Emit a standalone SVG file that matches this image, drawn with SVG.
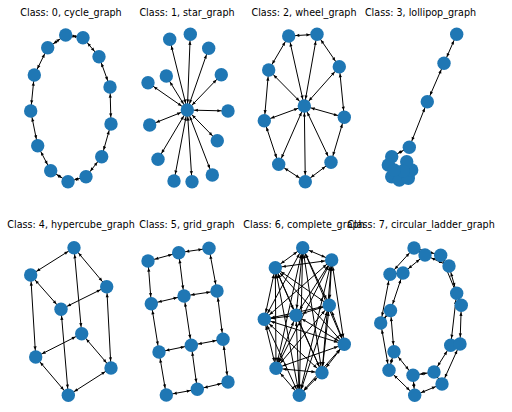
<svg xmlns="http://www.w3.org/2000/svg" width="512" height="412" viewBox="0 0 512 412">
<defs>
<marker id="a" markerUnits="userSpaceOnUse" orient="auto-start-reverse" refX="0" refY="0" markerWidth="12" markerHeight="4" viewBox="-12 -2 12 4">
<path d="M-7,0 L-10.6,-1.6 L-10.6,1.6 Z" fill="#000"/>
</marker>
</defs>
<style>
.e line{stroke:#000;stroke-width:1;marker-start:url(#a);marker-end:url(#a)}
.n{fill:#1f77b4}
.t{font-family:"DejaVu Sans",sans-serif;font-size:9.6px;text-anchor:middle;fill:#000}
</style>
<rect width="512" height="412" fill="#fff"/>
<g id="titles">
<text class="t" x="71" y="15.5">Class: 0, cycle_graph</text>
<text class="t" x="187" y="15.5">Class: 1, star_graph</text>
<text class="t" x="304" y="15.5">Class: 2, wheel_graph</text>
<text class="t" x="420.5" y="15.5">Class: 3, lollipop_graph</text>
<text class="t" x="71" y="227.5">Class: 4, hypercube_graph</text>
<text class="t" x="187" y="227.5">Class: 5, grid_graph</text>
<text class="t" x="304" y="227.5">Class: 6, complete_graph</text>
<text class="t" x="421" y="227.5">Class: 7, circular_ladder_graph</text>
</g>
<g id="connectors" class="e">
<!-- cycle -->
<line x1="65.7" y1="35" x2="83" y2="37.7"/>
<line x1="83" y1="37.7" x2="99" y2="56.7"/>
<line x1="99" y1="56.7" x2="110" y2="87"/>
<line x1="110" y1="87" x2="111" y2="124"/>
<line x1="111" y1="124" x2="101.7" y2="156.7"/>
<line x1="101.7" y1="156.7" x2="86" y2="176.7"/>
<line x1="86" y1="176.7" x2="68" y2="181.7"/>
<line x1="68" y1="181.7" x2="50.7" y2="170.7"/>
<line x1="50.7" y1="170.7" x2="37.7" y2="145.7"/>
<line x1="37.7" y1="145.7" x2="30.7" y2="111"/>
<line x1="30.7" y1="111" x2="34.3" y2="75"/>
<line x1="34.3" y1="75" x2="47.7" y2="47.7"/>
<line x1="47.7" y1="47.7" x2="65.7" y2="35"/>
<!-- star -->
<line x1="187.3" y1="110" x2="169.7" y2="39.3"/>
<line x1="187.3" y1="110" x2="190.3" y2="34.3"/>
<line x1="187.3" y1="110" x2="208.7" y2="48.3"/>
<line x1="187.3" y1="110" x2="166.3" y2="76"/>
<line x1="187.3" y1="110" x2="148" y2="82.7"/>
<line x1="187.3" y1="110" x2="221.3" y2="74.7"/>
<line x1="187.3" y1="110" x2="228" y2="111"/>
<line x1="187.3" y1="110" x2="149.7" y2="125"/>
<line x1="187.3" y1="110" x2="217.3" y2="140.7"/>
<line x1="187.3" y1="110" x2="158" y2="159.3"/>
<line x1="187.3" y1="110" x2="174" y2="181"/>
<line x1="187.3" y1="110" x2="192" y2="181.7"/>
<line x1="187.3" y1="110" x2="212.3" y2="175"/>
<!-- wheel -->
<line x1="304.3" y1="106" x2="288.7" y2="36"/>
<line x1="304.3" y1="106" x2="317" y2="34.3"/>
<line x1="304.3" y1="106" x2="339.3" y2="66.7"/>
<line x1="304.3" y1="106" x2="344.3" y2="117.3"/>
<line x1="304.3" y1="106" x2="331" y2="162.3"/>
<line x1="304.3" y1="106" x2="305.3" y2="181.7"/>
<line x1="304.3" y1="106" x2="278.7" y2="164.3"/>
<line x1="304.3" y1="106" x2="264.3" y2="120.7"/>
<line x1="304.3" y1="106" x2="268.7" y2="70"/>
<line x1="288.7" y1="36" x2="317" y2="34.3"/>
<line x1="317" y1="34.3" x2="339.3" y2="66.7"/>
<line x1="339.3" y1="66.7" x2="344.3" y2="117.3"/>
<line x1="344.3" y1="117.3" x2="331" y2="162.3"/>
<line x1="331" y1="162.3" x2="305.3" y2="181.7"/>
<line x1="305.3" y1="181.7" x2="278.7" y2="164.3"/>
<line x1="278.7" y1="164.3" x2="264.3" y2="120.7"/>
<line x1="264.3" y1="120.7" x2="268.7" y2="70"/>
<line x1="268.7" y1="70" x2="288.7" y2="36"/>
<!-- lollipop -->
<line x1="456.7" y1="34.3" x2="444" y2="63.3"/>
<line x1="444" y1="63.3" x2="427.3" y2="101.7"/>
<line x1="427.3" y1="101.7" x2="409.3" y2="147.3"/>
<line x1="409.3" y1="147.3" x2="391.7" y2="156.7"/>
<line x1="391.7" y1="156.7" x2="399.3" y2="180"/>
<!-- hypercube -->
<line x1="74" y1="247.7" x2="30.7" y2="275"/>
<line x1="74" y1="247.7" x2="106.7" y2="286.7"/>
<line x1="74" y1="247.7" x2="81.7" y2="333.7"/>
<line x1="30.7" y1="275" x2="61" y2="309.3"/>
<line x1="30.7" y1="275" x2="35.7" y2="357"/>
<line x1="106.7" y1="286.7" x2="61" y2="309.3"/>
<line x1="106.7" y1="286.7" x2="111" y2="368"/>
<line x1="61" y1="309.3" x2="68.3" y2="395.3"/>
<line x1="81.7" y1="333.7" x2="35.7" y2="357"/>
<line x1="81.7" y1="333.7" x2="111" y2="368"/>
<line x1="35.7" y1="357" x2="68.3" y2="395.3"/>
<line x1="111" y1="368" x2="68.3" y2="395.3"/>
<!-- grid -->
<line x1="148" y1="261" x2="178.7" y2="252.7"/>
<line x1="178.7" y1="252.7" x2="209" y2="248.3"/>
<line x1="151.3" y1="303.7" x2="184" y2="296"/>
<line x1="184" y1="296" x2="217" y2="291"/>
<line x1="159" y1="352" x2="191.3" y2="345.3"/>
<line x1="191.3" y1="345.3" x2="223" y2="339.3"/>
<line x1="166.3" y1="395" x2="197.3" y2="389.3"/>
<line x1="197.3" y1="389.3" x2="228" y2="382"/>
<line x1="148" y1="261" x2="151.3" y2="303.7"/>
<line x1="151.3" y1="303.7" x2="159" y2="352"/>
<line x1="159" y1="352" x2="166.3" y2="395"/>
<line x1="178.7" y1="252.7" x2="184" y2="296"/>
<line x1="184" y1="296" x2="191.3" y2="345.3"/>
<line x1="191.3" y1="345.3" x2="197.3" y2="389.3"/>
<line x1="209" y1="248.3" x2="217" y2="291"/>
<line x1="217" y1="291" x2="223" y2="339.3"/>
<line x1="223" y1="339.3" x2="228" y2="382"/>
<!-- complete -->
<line x1="302.7" y1="247.7" x2="331.7" y2="260"/>
<line x1="302.7" y1="247.7" x2="275.3" y2="267.7"/>
<line x1="302.7" y1="247.7" x2="329.3" y2="305.3"/>
<line x1="302.7" y1="247.7" x2="296" y2="315.3"/>
<line x1="302.7" y1="247.7" x2="264.3" y2="319.3"/>
<line x1="302.7" y1="247.7" x2="344.3" y2="344.3"/>
<line x1="302.7" y1="247.7" x2="276" y2="368.3"/>
<line x1="302.7" y1="247.7" x2="322" y2="372.7"/>
<line x1="302.7" y1="247.7" x2="299.3" y2="395.3"/>
<line x1="331.7" y1="260" x2="275.3" y2="267.7"/>
<line x1="331.7" y1="260" x2="329.3" y2="305.3"/>
<line x1="331.7" y1="260" x2="296" y2="315.3"/>
<line x1="331.7" y1="260" x2="264.3" y2="319.3"/>
<line x1="331.7" y1="260" x2="344.3" y2="344.3"/>
<line x1="331.7" y1="260" x2="276" y2="368.3"/>
<line x1="331.7" y1="260" x2="322" y2="372.7"/>
<line x1="331.7" y1="260" x2="299.3" y2="395.3"/>
<line x1="275.3" y1="267.7" x2="329.3" y2="305.3"/>
<line x1="275.3" y1="267.7" x2="296" y2="315.3"/>
<line x1="275.3" y1="267.7" x2="264.3" y2="319.3"/>
<line x1="275.3" y1="267.7" x2="344.3" y2="344.3"/>
<line x1="275.3" y1="267.7" x2="276" y2="368.3"/>
<line x1="275.3" y1="267.7" x2="322" y2="372.7"/>
<line x1="275.3" y1="267.7" x2="299.3" y2="395.3"/>
<line x1="329.3" y1="305.3" x2="296" y2="315.3"/>
<line x1="329.3" y1="305.3" x2="264.3" y2="319.3"/>
<line x1="329.3" y1="305.3" x2="344.3" y2="344.3"/>
<line x1="329.3" y1="305.3" x2="276" y2="368.3"/>
<line x1="329.3" y1="305.3" x2="322" y2="372.7"/>
<line x1="329.3" y1="305.3" x2="299.3" y2="395.3"/>
<line x1="296" y1="315.3" x2="264.3" y2="319.3"/>
<line x1="296" y1="315.3" x2="344.3" y2="344.3"/>
<line x1="296" y1="315.3" x2="276" y2="368.3"/>
<line x1="296" y1="315.3" x2="322" y2="372.7"/>
<line x1="296" y1="315.3" x2="299.3" y2="395.3"/>
<line x1="264.3" y1="319.3" x2="344.3" y2="344.3"/>
<line x1="264.3" y1="319.3" x2="276" y2="368.3"/>
<line x1="264.3" y1="319.3" x2="322" y2="372.7"/>
<line x1="264.3" y1="319.3" x2="299.3" y2="395.3"/>
<line x1="344.3" y1="344.3" x2="276" y2="368.3"/>
<line x1="344.3" y1="344.3" x2="322" y2="372.7"/>
<line x1="344.3" y1="344.3" x2="299.3" y2="395.3"/>
<line x1="276" y1="368.3" x2="322" y2="372.7"/>
<line x1="276" y1="368.3" x2="299.3" y2="395.3"/>
<line x1="322" y1="372.7" x2="299.3" y2="395.3"/>
<!-- circular ladder -->
<line x1="414" y1="248" x2="390" y2="274.3"/>
<line x1="390" y1="274.3" x2="380.7" y2="323"/>
<line x1="380.7" y1="323" x2="389" y2="370.3"/>
<line x1="389" y1="370.3" x2="414.7" y2="395.3"/>
<line x1="414.7" y1="395.3" x2="442" y2="384"/>
<line x1="442" y1="384" x2="460" y2="344"/>
<line x1="460" y1="344" x2="461.3" y2="305.3"/>
<line x1="461.3" y1="305.3" x2="440.7" y2="255.3"/>
<line x1="440.7" y1="255.3" x2="414" y2="248"/>
<line x1="425" y1="255" x2="403" y2="273"/>
<line x1="403" y1="273" x2="390.5" y2="310.5"/>
<line x1="390.5" y1="310.5" x2="394" y2="351.7"/>
<line x1="394" y1="351.7" x2="413" y2="375.3"/>
<line x1="413" y1="375.3" x2="434" y2="372"/>
<line x1="434" y1="372" x2="450.7" y2="345.3"/>
<line x1="450.7" y1="345.3" x2="456.7" y2="293.3"/>
<line x1="456.7" y1="293.3" x2="449" y2="266"/>
<line x1="449" y1="266" x2="425" y2="255"/>
<line x1="414" y1="248" x2="425" y2="255"/>
<line x1="390" y1="274.3" x2="403" y2="273"/>
<line x1="380.7" y1="323" x2="390.5" y2="310.5"/>
<line x1="389" y1="370.3" x2="394" y2="351.7"/>
<line x1="414.7" y1="395.3" x2="413" y2="375.3"/>
<line x1="442" y1="384" x2="434" y2="372"/>
<line x1="460" y1="344" x2="450.7" y2="345.3"/>
<line x1="461.3" y1="305.3" x2="456.7" y2="293.3"/>
<line x1="440.7" y1="255.3" x2="449" y2="266"/>
</g>
<g id="cycle_graph">
<g id="c0"><circle class="n" cx="65.7" cy="35" r="6.7"/></g>
<g id="c1"><circle class="n" cx="83" cy="37.7" r="6.7"/></g>
<g id="c2"><circle class="n" cx="99" cy="56.7" r="6.7"/></g>
<g id="c3"><circle class="n" cx="110" cy="87" r="6.7"/></g>
<g id="c4"><circle class="n" cx="111" cy="124" r="6.7"/></g>
<g id="c5"><circle class="n" cx="101.7" cy="156.7" r="6.7"/></g>
<g id="c6"><circle class="n" cx="86" cy="176.7" r="6.7"/></g>
<g id="c7"><circle class="n" cx="68" cy="181.7" r="6.7"/></g>
<g id="c8"><circle class="n" cx="50.7" cy="170.7" r="6.7"/></g>
<g id="c9"><circle class="n" cx="37.7" cy="145.7" r="6.7"/></g>
<g id="c10"><circle class="n" cx="30.7" cy="111" r="6.7"/></g>
<g id="c11"><circle class="n" cx="34.3" cy="75" r="6.7"/></g>
<g id="c12"><circle class="n" cx="47.7" cy="47.7" r="6.7"/></g>
</g>
<g id="star_graph">
<g id="s0"><circle class="n" cx="187.3" cy="110" r="6.7"/></g>
<g id="s1"><circle class="n" cx="169.7" cy="39.3" r="6.7"/></g>
<g id="s2"><circle class="n" cx="190.3" cy="34.3" r="6.7"/></g>
<g id="s3"><circle class="n" cx="208.7" cy="48.3" r="6.7"/></g>
<g id="s4"><circle class="n" cx="166.3" cy="76" r="6.7"/></g>
<g id="s5"><circle class="n" cx="148" cy="82.7" r="6.7"/></g>
<g id="s6"><circle class="n" cx="221.3" cy="74.7" r="6.7"/></g>
<g id="s7"><circle class="n" cx="228" cy="111" r="6.7"/></g>
<g id="s8"><circle class="n" cx="149.7" cy="125" r="6.7"/></g>
<g id="s9"><circle class="n" cx="217.3" cy="140.7" r="6.7"/></g>
<g id="s10"><circle class="n" cx="158" cy="159.3" r="6.7"/></g>
<g id="s11"><circle class="n" cx="174" cy="181" r="6.7"/></g>
<g id="s12"><circle class="n" cx="192" cy="181.7" r="6.7"/></g>
<g id="s13"><circle class="n" cx="212.3" cy="175" r="6.7"/></g>
</g>
<g id="wheel_graph">
<g id="w0"><circle class="n" cx="304.3" cy="106" r="6.7"/></g>
<g id="w1"><circle class="n" cx="288.7" cy="36" r="6.7"/></g>
<g id="w2"><circle class="n" cx="317" cy="34.3" r="6.7"/></g>
<g id="w3"><circle class="n" cx="339.3" cy="66.7" r="6.7"/></g>
<g id="w4"><circle class="n" cx="344.3" cy="117.3" r="6.7"/></g>
<g id="w5"><circle class="n" cx="331" cy="162.3" r="6.7"/></g>
<g id="w6"><circle class="n" cx="305.3" cy="181.7" r="6.7"/></g>
<g id="w7"><circle class="n" cx="278.7" cy="164.3" r="6.7"/></g>
<g id="w8"><circle class="n" cx="264.3" cy="120.7" r="6.7"/></g>
<g id="w9"><circle class="n" cx="268.7" cy="70" r="6.7"/></g>
</g>
<g id="lollipop_graph">
<g id="l0"><circle class="n" cx="456.7" cy="34.3" r="6.7"/></g>
<g id="l1"><circle class="n" cx="444" cy="63.3" r="6.7"/></g>
<g id="l2"><circle class="n" cx="427.3" cy="101.7" r="6.7"/></g>
<g id="l3"><circle class="n" cx="409.3" cy="147.3" r="6.7"/></g>
<g id="l4"><circle class="n" cx="391.7" cy="156.7" r="6.7"/></g>
<g id="l5"><circle class="n" cx="388.3" cy="165" r="6.7"/></g>
<g id="l6"><circle class="n" cx="391.7" cy="176.7" r="6.7"/></g>
<g id="l7"><circle class="n" cx="399.3" cy="180" r="6.7"/></g>
<g id="l8"><circle class="n" cx="408.3" cy="178.3" r="6.7"/></g>
<g id="l9"><circle class="n" cx="411.7" cy="170" r="6.7"/></g>
<g id="l10"><circle class="n" cx="406.7" cy="161.7" r="6.7"/></g>
<g id="l11"><circle class="n" cx="403" cy="171" r="6.7"/></g>
<g id="l12"><circle class="n" cx="394" cy="170" r="6.7"/></g>
</g>
<g id="hypercube_graph">
<g id="h0"><circle class="n" cx="74" cy="247.7" r="6.7"/></g>
<g id="h1"><circle class="n" cx="30.7" cy="275" r="6.7"/></g>
<g id="h2"><circle class="n" cx="106.7" cy="286.7" r="6.7"/></g>
<g id="h3"><circle class="n" cx="61" cy="309.3" r="6.7"/></g>
<g id="h4"><circle class="n" cx="81.7" cy="333.7" r="6.7"/></g>
<g id="h5"><circle class="n" cx="35.7" cy="357" r="6.7"/></g>
<g id="h6"><circle class="n" cx="111" cy="368" r="6.7"/></g>
<g id="h7"><circle class="n" cx="68.3" cy="395.3" r="6.7"/></g>
</g>
<g id="grid_graph">
<g id="g0"><circle class="n" cx="148" cy="261" r="6.7"/></g>
<g id="g1"><circle class="n" cx="178.7" cy="252.7" r="6.7"/></g>
<g id="g2"><circle class="n" cx="209" cy="248.3" r="6.7"/></g>
<g id="g3"><circle class="n" cx="151.3" cy="303.7" r="6.7"/></g>
<g id="g4"><circle class="n" cx="184" cy="296" r="6.7"/></g>
<g id="g5"><circle class="n" cx="217" cy="291" r="6.7"/></g>
<g id="g6"><circle class="n" cx="159" cy="352" r="6.7"/></g>
<g id="g7"><circle class="n" cx="191.3" cy="345.3" r="6.7"/></g>
<g id="g8"><circle class="n" cx="223" cy="339.3" r="6.7"/></g>
<g id="g9"><circle class="n" cx="166.3" cy="395" r="6.7"/></g>
<g id="g10"><circle class="n" cx="197.3" cy="389.3" r="6.7"/></g>
<g id="g11"><circle class="n" cx="228" cy="382" r="6.7"/></g>
</g>
<g id="complete_graph">
<g id="k0"><circle class="n" cx="302.7" cy="247.7" r="6.7"/></g>
<g id="k1"><circle class="n" cx="331.7" cy="260" r="6.7"/></g>
<g id="k2"><circle class="n" cx="275.3" cy="267.7" r="6.7"/></g>
<g id="k3"><circle class="n" cx="329.3" cy="305.3" r="6.7"/></g>
<g id="k4"><circle class="n" cx="296" cy="315.3" r="6.7"/></g>
<g id="k5"><circle class="n" cx="264.3" cy="319.3" r="6.7"/></g>
<g id="k6"><circle class="n" cx="344.3" cy="344.3" r="6.7"/></g>
<g id="k7"><circle class="n" cx="276" cy="368.3" r="6.7"/></g>
<g id="k8"><circle class="n" cx="322" cy="372.7" r="6.7"/></g>
<g id="k9"><circle class="n" cx="299.3" cy="395.3" r="6.7"/></g>
</g>
<g id="circular_ladder_graph">
<g id="r1"><circle class="n" cx="414" cy="248" r="6.7"/></g>
<g id="r2"><circle class="n" cx="425" cy="255" r="6.7"/></g>
<g id="r3"><circle class="n" cx="440.7" cy="255.3" r="6.7"/></g>
<g id="r4"><circle class="n" cx="449" cy="266" r="6.7"/></g>
<g id="r5"><circle class="n" cx="456.7" cy="293.3" r="6.7"/></g>
<g id="r6"><circle class="n" cx="461.3" cy="305.3" r="6.7"/></g>
<g id="r7"><circle class="n" cx="450.7" cy="345.3" r="6.7"/></g>
<g id="r8"><circle class="n" cx="460" cy="344" r="6.7"/></g>
<g id="r9"><circle class="n" cx="434" cy="372" r="6.7"/></g>
<g id="r10"><circle class="n" cx="442" cy="384" r="6.7"/></g>
<g id="r11"><circle class="n" cx="414.7" cy="395.3" r="6.7"/></g>
<g id="r12"><circle class="n" cx="413" cy="375.3" r="6.7"/></g>
<g id="r13"><circle class="n" cx="389" cy="370.3" r="6.7"/></g>
<g id="r14"><circle class="n" cx="394" cy="351.7" r="6.7"/></g>
<g id="r15"><circle class="n" cx="380.7" cy="323" r="6.7"/></g>
<g id="r16"><circle class="n" cx="390.5" cy="310.5" r="6.7"/></g>
<g id="r17"><circle class="n" cx="390" cy="274.3" r="6.7"/></g>
<g id="r18"><circle class="n" cx="403" cy="273" r="6.7"/></g>
</g>
</svg>
